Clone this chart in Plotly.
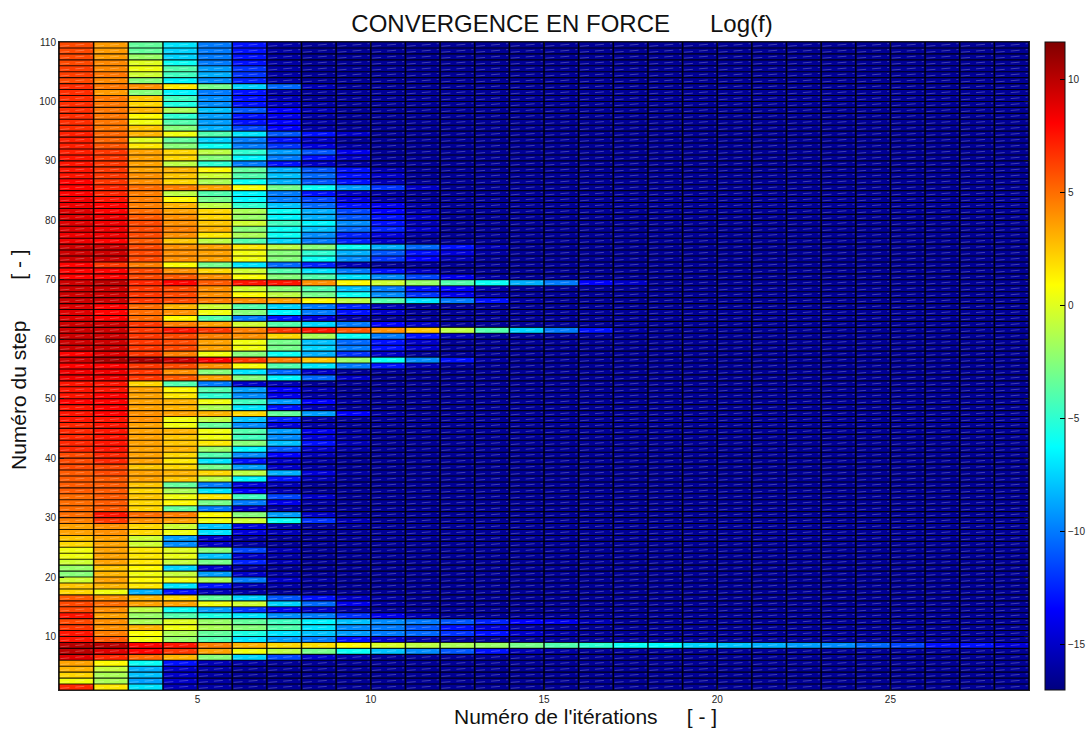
import plotly.graph_objects as go

iterations = list(range(1, 30))          # cell edges along x
steps = list(range(1, 111))              # cell edges along y
x_ticks = [5, 10, 15, 20, 25]
y_ticks = [10, 20, 30, 40, 50, 60, 70, 80, 90, 100, 110]
cbar_ticks = [-15, -10, -5, 0, 5, 10]
z_min, z_max = -17.03, 11.64
settled_level = -16.4                    # colour of every settled (navy) cell
jet_scale = [[0, "rgb(0,0,128)"], [0.125, "rgb(0,0,255)"], [0.375, "rgb(0,255,255)"],
             [0.625, "rgb(255,255,0)"], [0.875, "rgb(255,0,0)"], [1, "rgb(128,0,0)"]]

# log(f), one row per step, from the first iteration up to the last unsettled one
steps_109_to_78 = [
    [6, 3.7, -3.5, -7, -10, -13, -16],
    [6, 3.7, -3.5, -7.5, -10, -13, -16],
    [6, 3.7, -2, -7.5, -10, -13, -16],
    [6, 4.2, 0, -6, -10, -13, -16],
    [6.3, 4.2, .5, -4, -9, -12, -16],
    [6.3, 4.7, -.5, -4.5, -8.5, -12, -16],
    [6, 4.2, -2.5, -6.5, -9.5, -12.5, -16],
    [6.8, 4.7, 4, 1.5, -3, -7.5, -10.5, -15.5],
    [6.8, 3.7, -2.5, -6.5, -10, -13, -16],
    [6.8, 4.7, 2.5, -4.5, -9.5, -13, -15.5],
    [6.8, 4.7, 2, -5.5, -9.5, -13, -15, -16],
    [6.8, 4.7, 3, -1.5, -8, -11, -13.5, -15.5],
    [6.8, 4.7, 1, -5, -9, -13, -14, -16],
    [6.8, 4.7, .5, -4, -9, -13, -13.5, -16],
    [6.8, 4.7, 2.5, -2.5, -8.5, -11.5, -13.5, -16],
    [7.2, 5.2, 3, .5, -4, -7, -11, -13, -15],
    [7.2, 5.2, 0, -3.5, -7.5, -10, -13, -15],
    [7.2, 5.7, 1.5, -2.5, -6, -10, -12, -14.5, -16],
    [7.2, 6.5, 3.5, 2, -1, -5, -9, -11, -14],
    [7.5, 6.5, 3.5, 2, -2.5, -6.5, -10, -13, -15],
    [7.5, 6.5, 3.5, -1, -5, -10, -13, -15, -16],
    [7.5, 6.5, 3.5, 3, 1, -3.5, -8.5, -11, -13, -15.5],
    [7.5, 6.5, 4, 2.5, -.5, -4, -8, -10.5, -13, -15],
    [8, 6.5, 4, 2, -1.5, -6, -8.5, -11, -13, -15.5],
    [8, 7, 5, 4.5, 3.5, .7, -3, -6, -9, -12, -15],
    [8, 7, 4.5, -1, -4, -6.5, -10, -13, -15, -16],
    [8.5, 7.5, 4.5, 1, -3, -6.5, -10, -11.5, -14.5, -16],
    [8.5, 8, 4.5, 3, -1, -5, -8, -10.5, -13, -14, -16],
    [9, 8, 5, 3.5, 2, -1.5, -6, -8.5, -11.5, -13.5, -15.5],
    [9, 8.5, 5.5, 4, 2, -2, -6.5, -8.5, -11, -13, -15],
    [9, 8.5, 6, 4, 2.5, -.5, -4.5, -6.5, -9.5, -13, -15.5],
    [9, 8.5, 6, 4.5, 3, -2.5, -6, -8, -10.5, -12.5, -15],
]
steps_77_to_55 = [
    [8.5, 8.5, 6, 4, 1.5, -1.5, -6, -9.5, -12.5, -14.5, -16],
    [8.5, 8, 5.5, 2.5, -1, -4, -7.5, -10, -12.5, -15],
    [9.5, 9.5, 6, 4, 3.5, 1.5, -1, -2.5, -6, -8.5, -10.5, -13, -15.5],
    [9.5, 9.5, 6, 4, 3.5, .5, -2.5, -5, -8.5, -11, -13, -14.5, -16],
    [9.5, 9.5, 6, 4, 3.5, .5, -2.5, -6, -9.5, -12, -13.5, -15.5],
    [8, 6.5, 4.5, .8, -3, -7, -10.5, -12.5, -15.5],
    [8, 8, 6, 4, 2, -.5, -4, -7, -10, -13, -15],
    [8, 8, 6, 5.5, 4, .8, -2.5, -4, -7, -9.5, -11.5, -14, -16],
    [9.5, 10, 7, 8, 5.5, 7.5, 7.5, 4, 1, -.5, -2, -4, -6, -8.5, -10, -13.5, -15],
    [9.5, 9.5, 6.5, 6, 4, -.5, -2.5, -4, -8, -10, -13, -13.5, -16],
    [9.5, 9.5, 6.5, 6, 4, .8, -1, -3, -6, -9.5, -12, -14, -16],
    [9.5, 9.5, 6.5, 6, 4.5, 4, 3.5, 1, -1, -4, -7, -10, -13, -16],
    [9, 8, 5, 3, -.5, -4, -7.5, -10, -12.5, -15.5],
    [9, 8, 5, 4, .5, -2.5, -6.5, -10, -13, -15],
    [9, 8, 5, 1, -4, -10, -13, -14.5, -16],
    [9.5, 9.5, 6.5, 4.5, 3.5, -.5, -4, -7.5, -10, -13.5, -15],
    [9.5, 9.5, 6.5, 7.5, 6.5, 4.5, 6.5, 7.5, 5.5, 4, 2.5, -1, -4, -7.5, -10, -13, -16],
    [9.5, 9.5, 6.5, 6, 4.5, 4, 2, -1.5, -6, -10, -13, -15.5],
    [9.5, 9.5, 6.5, 6, 3.5, .5, -3, -8, -10.5, -13, -15],
    [9.5, 9.5, 6.5, 6, 3.5, .5, -3, -7.5, -10, -13, -15],
    [8, 9, 6.5, 4.5, .5, -2.5, -6, -8.5, -12, -15],
    [9.5, 10.5, 10.5, 9.5, 8, 6.5, 4.5, 2.5, -2, -6, -9.5, -13, -16],
    [8, 8, 6.5, 6, 4, .7, -4, -7, -10, -13, -15.5],
]
steps_54_to_30 = [
    [8.5, 8.5, 6.5, 4, -2.5, -7, -10.5, -15],
    [8.5, 8.5, 6.5, 5.5, 3.5, -2.5, -6.5, -10.5, -15],
    [7.5, 7.5, 2, -4, -10, -15, -15.5],
    [7.5, 7.5, 3.5, 1, -4, -9, -13.5, -15.5],
    [7.5, 8, 3.5, 1.5, -5, -9.5, -14, -16],
    [8, 8, 3.5, 3, .5, -4.5, -9, -13.5, -16],
    [7.5, 8, 3.5, 3, -1.5, -7, -13, -15.5],
    [7.5, 8, 4, 3.5, 3, 2, -3.5, -9, -13.5, -16],
    [7.5, 7.5, 4, .5, -1, -8, -12.5, -16],
    [7, 7.5, 3.5, .5, -3.5, -9.5, -14.5, -16],
    [7, 7.5, 3.5, 3, .5, -4, -9, -14, -16],
    [7, 7.5, 3.5, 2.5, .5, -4.5, -9.5, -14.5, -16],
    [7, 7.5, 3.5, 2.5, 1.5, -2.5, -8, -13, -15.5],
    [7, 7.5, 3.5, 3, -2, -6.5, -11, -15, -16],
    [6, 7, 3.5, 2, -4, -9.5, -13.5, -15.5],
    [6, 7, 3.5, 1.5, -7, -13, -15, -16],
    [6, 6, 2.5, 2, -3, -9, -15, -16],
    [5.5, 6, 3.5, 3, 2, -1, -8.5, -14.5, -16],
    [5.5, 5.5, 3.5, 2.5, -1, -6.5, -13, -15.5],
    [5.5, 5.5, 2.5, -3.5, -10, -14.5, -15.5],
    [5.5, 5.5, 2, -1.5, -7, -13.5, -15.5],
    [5, 5.5, 2.5, .5, 1.5, -4.5, -11.5, -15],
    [5, 5.5, 2, 1, -3, -10, -14, -16],
    [5, 5.5, 2, -3.5, -10, -15, -16],
    [5, 7.5, 5, 4.5, 1, -2.5, -9, -15],
]
steps_29_to_1 = [
    [4.5, 6.5, 4, 3.5, .5, -.5, -6, -12, -15.5],
    [3.5, 4, 2, -.5, -8, -14.5, -16],
    [3.5, 4, 2, .5, -7, -14.5, -15.5],
    [2.5, 3.5, -.5, -9, -15, -16],
    [2, 3.5, -.5, -9.5, -15, -16],
    [.5, 3.5, 1.5, 0, -2.5, -11.5, -15.5],
    [.5, 3.5, 1.5, .3, -8, -15, -16],
    [-.5, 3.5, 1.5, -.7, -3, -12.5, -15.5],
    [-2, 2.5, 1, -7.5, -15, -16],
    [-2.5, 3, .5, -.7, -9, -15, -16],
    [-.5, 3.5, 1, .5, -1.5, -10, -15, -16],
    [2.5, 3, 1.5, -7, -13, -15.5, -16],
    [2, .5, -8.5, -13, -15.5, -16],
    [5.5, 4, 3, 2, -3.5, -7.5, -11, -13, -15, -16],
    [6, 5, 3.5, 3.5, .5, -.5, -7.5, -10.5, -14, -16],
    [6, 4, -1, -6, -9, -12, -14, -15, -16],
    [7.5, 3.5, -2, -4, -5.5, -7, -9.5, -10, -12, -14, -15.5],
    [6, 4, -1.5, 0, -2, -3.5, -4.5, -6.5, -8, -9.5, -10, -11, -12.5, -13.5, -14, -15.5],
    [6.5, 4, 3, .5, -1.5, -2.5, -4, -7, -9.5, -10, -11, -13, -14.5, -16],
    [7.5, 4.5, .8, -1.5, -3.5, -5.5, -7, -8, -9, -10, -10.5, -12, -13, -15, -16],
    [7.5, 5.5, .5, -2, -4, -7, -9, -10, -13, -15, -16],
    [10, 10, 8, 7.5, 4.5, 3, 2, 1.8, 1, -.2, -1, -1.5, -2, -3, -4, -5, -6, -6.3,
     -7.5, -8, -8.5, -9, -9.5, -10.5, -11.5, -13, -13, -14.5],
    [10, 9, 8, 6.5, 3.5, .5, -1, -3, -6, -8, -9.5, -11, -13, -15.5, -16],
    [9, 7, 5, 3, -2.5, -7.5, -11.5, -15, -16],
    [3.5, 1, -6, -13, -15.5, -16],
    [3, -.7, -8.5, -15, -16],
    [2, -1.5, -8, -15, -16],
    [.5, -1.5, -9, -15, -16],
    [7, 1.5, -7, -15.5, -16],
]

rows_top_down = steps_109_to_78 + steps_77_to_55 + steps_54_to_30 + steps_29_to_1
n_cols = len(iterations) - 1
z = [r + [settled_level] * (n_cols - len(r)) for r in reversed(rows_top_down)]

TEXT = "#262626"
FONT = "Liberation Sans"
WIDTH, HEIGHT = 1088, 731
cb_left = (1045 - 59) / 970

fig = go.Figure()
fig.add_trace(go.Heatmap(
    x=iterations, y=steps, z=z, zmin=z_min, zmax=z_max,
    colorscale=jet_scale,
    colorbar=dict(
        x=cb_left, xanchor="left", xref="paper",
        y=0, yanchor="bottom", yref="paper", len=1, lenmode="fraction",
        thickness=20, thicknessmode="pixels", xpad=0, ypad=0,
        outlinewidth=1, outlinecolor="#111",
        ticks="inside", ticklen=5, tickwidth=1, tickcolor="#000",
        tickvals=cbar_ticks, tickfont=dict(family=FONT, size=10, color=TEXT),
    ),
))

# faint slanted dashes that run across every cell of the mesh
seg_x, seg_y = [], []
for i in iterations[:-1]:
    for j in steps[:-1]:
        seg_x += [i + 0.04, i + 0.96, None]
        seg_y += [j + 0.28, j + 0.72, None]
fig.add_trace(go.Scatter(
    x=seg_x, y=seg_y, mode="lines", hoverinfo="skip", showlegend=False,
    line=dict(color="rgba(255,255,255,0.3)", width=0.8, dash="9px,6px"),
))

# black mesh between the cells: vertical lines, then horizontal lines
col_x, col_y, row_x, row_y = [], [], [], []
for i in iterations:
    col_x += [i, i, None]
    col_y += [steps[0], steps[-1], None]
for j in steps:
    row_x += [iterations[0], iterations[-1], None]
    row_y += [j, j, None]
fig.add_trace(go.Scatter(
    x=col_x, y=col_y, mode="lines", hoverinfo="skip", showlegend=False,
    line=dict(color="rgba(0,0,0,0.9)", width=1.5),
))
fig.add_trace(go.Scatter(
    x=row_x, y=row_y, mode="lines", hoverinfo="skip", showlegend=False,
    line=dict(color="rgba(0,0,0,0.85)", width=1.1),
))

axis_common = dict(
    showgrid=False, zeroline=False, ticks="inside", ticklen=5, tickwidth=1,
    tickcolor="#111", showline=True, linecolor="#222", linewidth=1, mirror="allticks",
    tickfont=dict(family=FONT, size=10, color=TEXT),
)

shapes = [
    dict(type="line", xref="paper", yref="paper",
         x0=cb_left, x1=cb_left + 5 / 970,
         y0=(v - z_min) / (z_max - z_min), y1=(v - z_min) / (z_max - z_min),
         line=dict(color="#000", width=1))
    for v in cbar_ticks
]

fig.update_layout(
    width=WIDTH, height=HEIGHT, autosize=False,
    margin=dict(l=59, r=WIDTH - 1029, t=42, b=HEIGHT - 690, autoexpand=False),
    paper_bgcolor="white", plot_bgcolor="#000",
    font=dict(family=FONT, color="#111"),
    title=dict(text="CONVERGENCE EN FORCE" + "\u00a0" * 6 + "Log(f)",
               x=562 / WIDTH, xanchor="center", xref="container",
               y=1 - 24 / HEIGHT, yanchor="middle", yref="container",
               font=dict(family=FONT, size=24, color="#111")),
    xaxis=dict(range=[1, 29], tickvals=x_ticks, **axis_common),
    yaxis=dict(range=[1, 110], tickvals=y_ticks, **axis_common),
    shapes=shapes,
    annotations=[
        dict(text="Numéro de l'itérations" + "\u00a0" * 5 + "[ - ]",
             xref="paper", yref="paper", x=(585 - 59) / 970, y=(690 - 716) / 648,
             xanchor="center", yanchor="middle", showarrow=False,
             font=dict(family=FONT, size=21, color="#111")),
        dict(text="Numéro du step" + "\u00a0" * 7 + "[ - ]", textangle=-90,
             xref="paper", yref="paper", x=(18 - 59) / 970, y=(690 - 360) / 648,
             xanchor="center", yanchor="middle", showarrow=False,
             font=dict(family=FONT, size=21, color="#111")),
    ],
)

# the page's default body margin would push the whole figure off its place
fig.write_html("out.html", config={"displayModeBar": False},
               post_script="document.body.style.margin='0';")
